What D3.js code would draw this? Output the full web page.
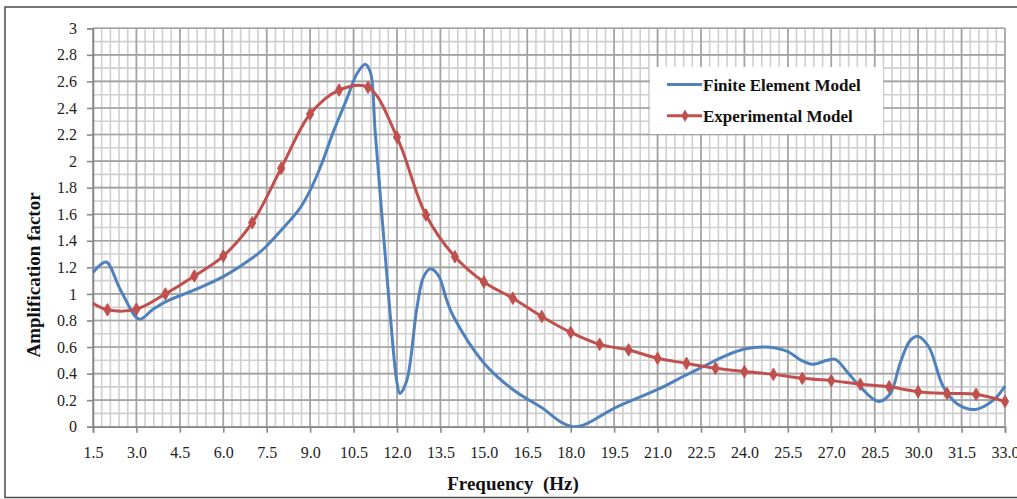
<!DOCTYPE html>
<html>
<head>
<meta charset="utf-8">
<script src="https://cdn.jsdelivr.net/npm/d3@7"></script>
<style>
  body { margin: 0; background: #fff; }
  svg { display: block; }
  text { font-family: "Liberation Serif", "Times New Roman", serif; }
</style>
</head>
<body>
<svg id="chart"></svg>
<script>
// Finite element model (blue, smooth line)
const femFreq = [1.5, 1.95, 2.45, 3.1, 3.55, 4.0, 5.0, 6.0, 7.0, 7.4, 8.0, 8.6, 9.0, 9.4, 9.8, 10.27, 10.62, 10.9, 11.08,
  11.25, 11.77, 12.0, 12.1, 12.34, 12.69, 12.92, 13.15, 13.43, 13.72, 13.95, 15.0, 16.0, 16.95, 18.1,
  19.6, 21.1, 21.9, 22.55, 23.3, 24.0, 24.77, 25.5, 25.96, 26.35, 26.86, 27.14, 27.56, 28.0, 28.63, 29.04, 29.38,
  29.73, 30.0, 30.37, 30.87, 31.33, 31.97, 32.6, 33.0];
const femValue = [1.16, 1.24, 1.03, 0.81, 0.88, 0.94, 1.03, 1.13, 1.27, 1.34, 1.48, 1.63, 1.78, 1.98, 2.22, 2.47, 2.66, 2.73, 2.67,
  2.21, 0.83, 0.33, 0.25, 0.35, 0.9, 1.13, 1.19, 1.14, 0.95, 0.83, 0.48, 0.28, 0.15, 0.0,
  0.15, 0.29, 0.38, 0.45, 0.53, 0.585, 0.6, 0.565, 0.5, 0.47, 0.5, 0.507, 0.41, 0.3, 0.19, 0.25, 0.48,
  0.65, 0.68, 0.6, 0.3, 0.175, 0.13, 0.2, 0.306];

// Experimental model (red, markers)
const expFreq = [1.5, 2, 3, 4, 5, 6, 7, 8, 9, 10, 11, 12, 13, 14, 15, 16, 17, 18, 19, 20, 21, 22, 23, 24, 25, 26, 27, 28, 29, 30, 31, 32, 33];
const expValue = [0.93, 0.88, 0.885, 1.0, 1.135, 1.285, 1.536, 1.946, 2.355, 2.535, 2.556, 2.18, 1.594, 1.28, 1.09, 0.967, 0.83,
  0.71, 0.62, 0.578, 0.515, 0.477, 0.44, 0.415, 0.394, 0.364, 0.347, 0.32, 0.30, 0.264, 0.25, 0.244, 0.19];

const xTickValues = [1.5, 3.0, 4.5, 6.0, 7.5, 9.0, 10.5, 12.0, 13.5, 15.0, 16.5, 18.0, 19.5, 21.0, 22.5, 24.0, 25.5, 27.0, 28.5, 30.0, 31.5, 33.0];
const yTickValues = [0, 0.2, 0.4, 0.6, 0.8, 1, 1.2, 1.4, 1.6, 1.8, 2, 2.2, 2.4, 2.6, 2.8, 3];

const seriesNames = ["Finite Element Model", "Experimental Model"];
const seriesColors = ["#4f81bd", "#c0504d"];

const W = 1017, H = 499;
const plot = {left: 93, right: 1005, top: 28.3, bottom: 426.7};

const svg = d3.select("#chart").attr("width", W).attr("height", H);

const x = d3.scaleLinear().domain([1.5, 33]).range([plot.left, plot.right]);
const y = d3.scaleLinear().domain([0, 3]).range([plot.bottom, plot.top]);

// outer frame
svg.append("path")
  .attr("d", `M${W + 5},7 H5 V497.5 H${W + 5}`)
  .attr("fill", "none")
  .attr("stroke", "#4a4a4a")
  .attr("stroke-width", 1.5);

// grid
const gGrid = svg.append("g");
const minorX = d3.range(0, 106).map(i => 1.5 + i * 0.3);
const minorY = d3.range(0, 31).map(i => i * 0.1);

gGrid.selectAll(".vminor").data(minorX).join("line")
  .attr("x1", d => x(d)).attr("x2", d => x(d))
  .attr("y1", plot.top).attr("y2", plot.bottom)
  .attr("stroke", "#cfcfcf").attr("stroke-width", 1.6);
gGrid.selectAll(".hminor").data(minorY).join("line")
  .attr("y1", d => y(d)).attr("y2", d => y(d))
  .attr("x1", plot.left).attr("x2", plot.right)
  .attr("stroke", "#cfcfcf").attr("stroke-width", 1.6);
gGrid.selectAll(".vmajor").data(xTickValues).join("line")
  .attr("x1", d => x(d)).attr("x2", d => x(d))
  .attr("y1", plot.top).attr("y2", plot.bottom)
  .attr("stroke", "#a2a2a2").attr("stroke-width", 1.6);
gGrid.selectAll(".hmajor").data(yTickValues).join("line")
  .attr("y1", d => y(d)).attr("y2", d => y(d))
  .attr("x1", plot.left).attr("x2", plot.right)
  .attr("stroke", "#a2a2a2").attr("stroke-width", 1.6);

// axes
const xAxis = svg.append("g")
  .attr("transform", `translate(0,${plot.bottom})`)
  .call(d3.axisBottom(x).tickValues(xTickValues).tickFormat(d3.format(".1f")).tickSize(6).tickPadding(14));
const yAxis = svg.append("g")
  .attr("transform", `translate(${plot.left},0)`)
  .call(d3.axisLeft(y).tickValues(yTickValues).tickFormat(d => d3.format("")(+d.toFixed(1))).tickSize(6).tickPadding(10));

[xAxis, yAxis].forEach(a => {
  a.select(".domain").attr("stroke", "#888").attr("stroke-width", 1.6);
  a.selectAll(".tick line").attr("stroke", "#888").attr("stroke-width", 1.6);
  a.selectAll(".tick text")
    .attr("fill", "#222")
    .style("font-family", '"Liberation Serif", serif')
    .style("font-size", "16px");
});

// clip for curves
svg.append("clipPath").attr("id", "plotclip")
  .append("rect")
  .attr("x", plot.left - 2).attr("y", plot.top - 5)
  .attr("width", plot.right - plot.left + 4).attr("height", plot.bottom - plot.top + 6);

const line = d3.line()
  .x(d => x(d[0]))
  .y(d => y(d[1]))
  .curve(d3.curveCatmullRom.alpha(0.5));

const femData = femFreq.map((f, i) => [f, femValue[i]]);
const expData = expFreq.map((f, i) => [f, expValue[i]]);

const gLines = svg.append("g").attr("clip-path", "url(#plotclip)");

gLines.append("path")
  .datum(femData)
  .attr("d", line)
  .attr("fill", "none")
  .attr("stroke", seriesColors[0])
  .attr("stroke-width", 3)
  .attr("stroke-linejoin", "round");

gLines.append("path")
  .datum(expData)
  .attr("d", line)
  .attr("fill", "none")
  .attr("stroke", seriesColors[1])
  .attr("stroke-width", 3)
  .attr("stroke-linejoin", "round");

const diamond = d3.symbol().type(d3.symbolDiamond).size(45);
svg.append("g").selectAll("path")
  .data(expData.filter(d => d[0] !== 1.5))
  .join("path")
  .attr("d", diamond)
  .attr("transform", d => `translate(${x(d[0])},${y(d[1])})`)
  .attr("fill", seriesColors[1])
  .attr("stroke", seriesColors[1])
  .attr("stroke-width", 1);

// axis titles
svg.append("text")
  .attr("x", 513).attr("y", 490)
  .attr("text-anchor", "middle")
  .style("font-size", "19px").style("font-weight", "bold")
  .style("white-space", "pre")
  .attr("fill", "#111")
  .text("Frequency  (Hz)");

svg.append("text")
  .attr("transform", "translate(40,275) rotate(-90)")
  .attr("text-anchor", "middle")
  .style("font-size", "19px").style("font-weight", "bold")
  .attr("fill", "#111")
  .text("Amplification factor");

// legend
const legend = svg.append("g");
legend.append("rect")
  .attr("x", 650).attr("y", 67).attr("width", 233).attr("height", 67)
  .attr("fill", "#fff");
const legendRows = [84.5, 115.7];
seriesNames.forEach((name, i) => {
  const ly = legendRows[i];
  legend.append("line")
    .attr("x1", 667).attr("x2", 702).attr("y1", ly).attr("y2", ly)
    .attr("stroke", seriesColors[i]).attr("stroke-width", 3);
  if (i === 1) {
    legend.append("path")
      .attr("d", diamond)
      .attr("transform", `translate(685,${ly})`)
      .attr("fill", seriesColors[i]);
  }
  legend.append("text")
    .attr("x", 703).attr("y", ly + 6)
    .style("font-size", "17px").style("font-weight", "bold")
    .attr("fill", "#111")
    .text(name);
});
</script>
</body>
</html>
